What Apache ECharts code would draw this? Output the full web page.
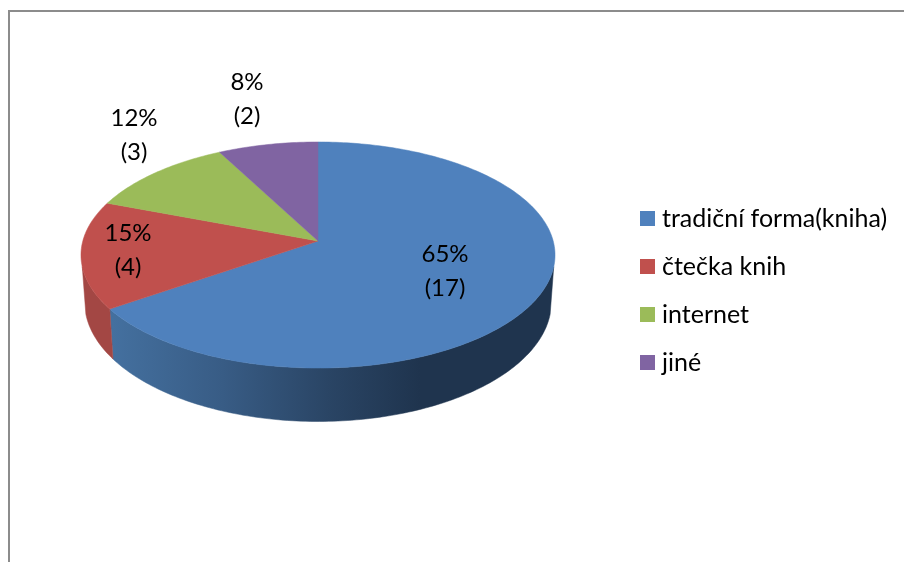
<!DOCTYPE html>
<html>
<head>
<meta charset="utf-8">
<title>pie</title>
<script src="https://cdn.jsdelivr.net/npm/echarts@6/dist/echarts.min.js"></script>
<style>
    html, body { margin: 0; padding: 0; background: #fff; }
    #chart { width: 904px; height: 562px; }
</style>
</head>
<body>
<div id="chart"></div>
<script>
    const categories = ['tradiční forma(kniha)', 'čtečka knih', 'internet', 'jiné'];
    const counts = [17, 4, 3, 2];
    const colors = ['#4F81BD', '#C0504D', '#9BBB59', '#8064A2'];

    const total = counts.reduce((a, b) => a + b, 0);

    // tilted disc: top plane and bottom plane, k gives the perspective
    const cx = 318;
    const k = 0.124;
    const topPlane = { y0: 241, rx: 235.2, ry: 111.3 };
    const bottomPlane = { y0: 287, rx: 231.6, ry: 117.8 };
    // part of the rim the viewer can see, degrees clockwise from 12 o'clock
    const rimFrom = 103;
    const rimTo = 257;
    // label centres
    const labelAt = [[445, 271], [128, 250], [134, 135], [247, 99]];

    function project(plane, deg) {
        const a = deg * Math.PI / 180;
        const d = 1 + k * Math.cos(a);
        return [cx + plane.rx * Math.sin(a) / d, plane.y0 - plane.ry * Math.cos(a) / d];
    }

    function arc(plane, from, to) {
        const pts = [];
        const n = Math.max(2, Math.ceil(Math.abs(to - from)));
        for (let i = 0; i <= n; i++) {
            pts.push(project(plane, from + (to - from) * i / n));
        }
        return pts;
    }

    function rimFill(i) {
        if (i === 0) {
            return new echarts.graphic.LinearGradient(112, 0, 420, 0, [
                { offset: 0, color: '#44709F' },
                { offset: 0.36, color: '#385C85' },
                { offset: 0.70, color: '#2A4565' },
                { offset: 1, color: '#1F344E' }
            ], true);
        }
        return '#A34744';
    }

    function sliceRenderer(i) {
        return function () {
            const before = counts.slice(0, i).reduce((a, b) => a + b, 0);
            const start = before / total * 360;
            const end = (before + counts[i]) / total * 360;
            const children = [];

            const rimA = Math.max(start, rimFrom);
            const rimB = Math.min(end, rimTo);
            if (rimB > rimA) {
                const rim = rimFill(i);
                children.push({
                    type: 'polygon',
                    shape: { points: arc(topPlane, rimA, rimB).concat(arc(bottomPlane, rimB, rimA)) },
                    style: { fill: rim, stroke: rim, lineWidth: 0.5 }
                });
            }

            children.push({
                type: 'polygon',
                shape: { points: [[cx, topPlane.y0]].concat(arc(topPlane, start, end)) },
                style: { fill: colors[i], stroke: colors[i], lineWidth: 0.5 }
            });

            children.push({
                type: 'text',
                z2: 10,
                style: {
                    x: labelAt[i][0],
                    y: labelAt[i][1],
                    text: Math.round(counts[i] / total * 100) + '%\n(' + counts[i] + ')',
                    align: 'center',
                    verticalAlign: 'middle',
                    font: '24px Lato',
                    lineHeight: 34,
                    fill: '#000'
                }
            });

            return { type: 'group', children: children };
        };
    }

    const myChart = echarts.init(document.getElementById('chart'), null, { renderer: 'canvas' });

    const option = {
        animation: false,
        backgroundColor: '#fff',
        legend: {
            orient: 'vertical',
            left: 640,
            top: 203,
            padding: 0,
            selectedMode: false,
            icon: 'rect',
            itemWidth: 15,
            itemHeight: 15,
            itemGap: 17,
            data: categories,
            textStyle: {
                fontFamily: 'Lato',
                fontSize: 25,
                color: '#000',
                lineHeight: 31,
                padding: [0, 0, 0, 2]
            }
        },
        graphic: [
            {
                type: 'polyline',
                silent: true,
                shape: { points: [[9, 562], [9, 11], [904, 11]] },
                style: { fill: null, stroke: '#8C8C8C', lineWidth: 2 }
            }
        ],
        series: categories.map((name, i) => ({
            type: 'custom',
            name: name,
            coordinateSystem: 'none',
            itemStyle: { color: colors[i] },
            data: [counts[i]],
            renderItem: sliceRenderer(i)
        }))
    };

    myChart.setOption(option);
</script>
</body>
</html>
